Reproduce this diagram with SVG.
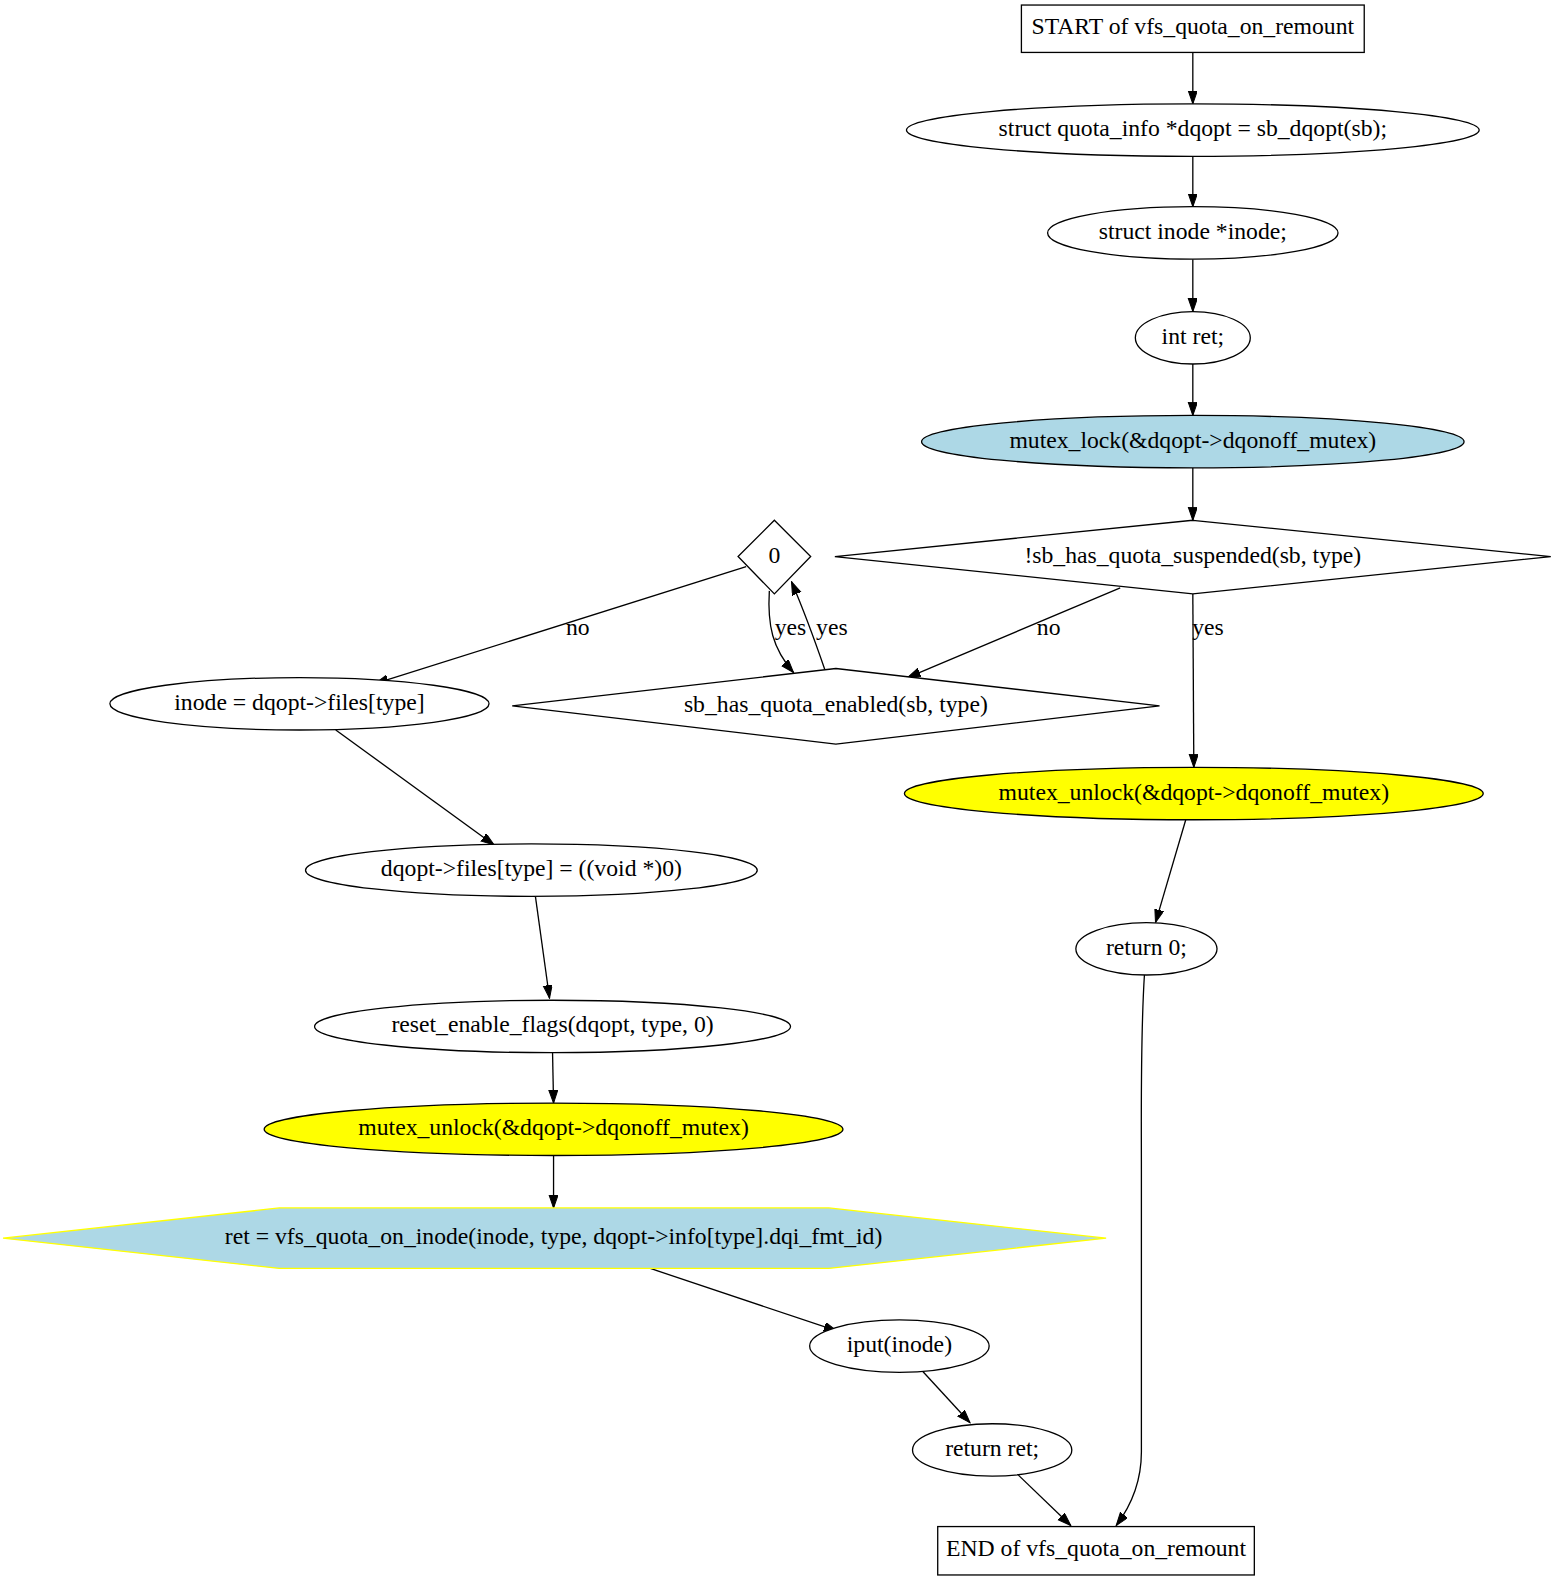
<svg xmlns="http://www.w3.org/2000/svg" width="1555" height="1581" viewBox="0 0 1555 1581">
<defs>
<marker id="ah" markerUnits="userSpaceOnUse" markerWidth="14" markerHeight="11" refX="13" refY="4.5" orient="auto">
<path d="M0,0 L13,4.5 L0,9 z" fill="#000" stroke="#000" stroke-width="1"/>
</marker>
<style>
text{font-family:"Liberation Serif","Times New Roman",serif;font-size:23.5px;fill:#000;text-anchor:middle}
.n{fill:#fff;stroke:#000;stroke-width:1.3}
.blue{fill:#add8e6}
.yel{fill:#ffff00}
.e{fill:none;stroke:#000;stroke-width:1.3;marker-end:url(#ah)}
</style>
</defs>
<rect width="1555" height="1581" fill="#fff"/>
<g transform="scale(1.0083)">
<g id="connectors">
<path class="e" d="M1183,52 L1183,103"/>
<path class="e" d="M1183,155 L1183,205"/>
<path class="e" d="M1183,257 L1183,309"/>
<path class="e" d="M1183,361 L1183,412"/>
<path class="e" d="M1183,464 L1183,516"/>
<path class="e" d="M1111,583 L900,672"/>
<text x="1040" y="630">no</text>
<path class="e" d="M1183,589 L1184,761"/>
<text x="1198" y="630">yes</text>
<path class="e" d="M818,664 C808,635 797,605 785,577"/>
<text x="825" y="630">yes</text>
<path class="e" d="M763,586 C761,620 766,643 787,667"/>
<text x="784" y="630">yes</text>
<path class="e" d="M740,562 L372,678"/>
<text x="573" y="630">no</text>
<path class="e" d="M333,724 L490,838"/>
<path class="e" d="M531,889 L545,990"/>
<path class="e" d="M548,1044 L549,1094"/>
<path class="e" d="M549,1146 L549,1198"/>
<path class="e" d="M645,1258 L830,1320"/>
<path class="e" d="M915,1360 L962,1411"/>
<path class="e" d="M1010,1463 L1062,1513"/>
<path class="e" d="M1176,813 L1146,915"/>
<path class="e" d="M1135,967 C1131,1030 1132,1100 1132,1160 L1132,1440 C1132,1470 1122,1493 1107,1513"/>
</g>
<g id="start"><rect class="n" x="1013" y="5" width="340" height="47"/><text x="1183" y="34">START of vfs_quota_on_remount</text></g>
<g id="dqopt_decl"><ellipse class="n" cx="1183" cy="129" rx="284" ry="26"/><text x="1183" y="135">struct quota_info *dqopt = sb_dqopt(sb);</text></g>
<g id="inode_decl"><ellipse class="n" cx="1183" cy="231" rx="144" ry="26"/><text x="1183" y="237">struct inode *inode;</text></g>
<g id="ret_decl"><ellipse class="n" cx="1183" cy="335" rx="57" ry="26"/><text x="1183" y="341">int ret;</text></g>
<g id="mutex_lock"><ellipse class="n blue" cx="1183" cy="438" rx="269" ry="26"/><text x="1183" y="444">mutex_lock(&amp;dqopt-&gt;dqonoff_mutex)</text></g>
<g id="suspended"><polygon class="n" points="1183,516 1538,552 1183,589 828,552"/><text x="1183" y="558">!sb_has_quota_suspended(sb, type)</text></g>
<g id="zero"><polygon class="n" points="768,516 804,552 768,589 732,552"/><text x="768" y="558">0</text></g>
<g id="enabled"><polygon class="n" points="829,663 1150,700 829,738 508,700"/><text x="829" y="706">sb_has_quota_enabled(sb, type)</text></g>
<g id="inode_assign"><ellipse class="n" cx="297" cy="698" rx="188" ry="26"/><text x="297" y="704">inode = dqopt-&gt;files[type]</text></g>
<g id="unlock_right"><ellipse class="n yel" cx="1184" cy="787" rx="287" ry="26"/><text x="1184" y="793">mutex_unlock(&amp;dqopt-&gt;dqonoff_mutex)</text></g>
<g id="return0"><ellipse class="n" cx="1137" cy="941" rx="70" ry="26"/><text x="1137" y="947">return 0;</text></g>
<g id="files_null"><ellipse class="n" cx="527" cy="863" rx="224" ry="26"/><text x="527" y="869">dqopt-&gt;files[type] = ((void *)0)</text></g>
<g id="reset"><ellipse class="n" cx="548" cy="1018" rx="236" ry="26"/><text x="548" y="1024">reset_enable_flags(dqopt, type, 0)</text></g>
<g id="unlock_left"><ellipse class="n yel" cx="549" cy="1120" rx="287" ry="26"/><text x="549" y="1126">mutex_unlock(&amp;dqopt-&gt;dqonoff_mutex)</text></g>
<g id="quota_on_inode"><polygon points="3,1228 277,1198 822,1198 1097,1228 822,1258 277,1258" fill="#add8e6" stroke="#ffff00" stroke-width="1.3"/><text x="549" y="1234">ret = vfs_quota_on_inode(inode, type, dqopt-&gt;info[type].dqi_fmt_id)</text></g>
<g id="iput"><ellipse class="n" cx="892" cy="1335" rx="89" ry="26"/><text x="892" y="1341">iput(inode)</text></g>
<g id="return_ret"><ellipse class="n" cx="984" cy="1438" rx="79" ry="26"/><text x="984" y="1444">return ret;</text></g>
<g id="end"><rect class="n" x="930" y="1514" width="314" height="48"/><text x="1087" y="1543">END of vfs_quota_on_remount</text></g>
</g>
</svg>
